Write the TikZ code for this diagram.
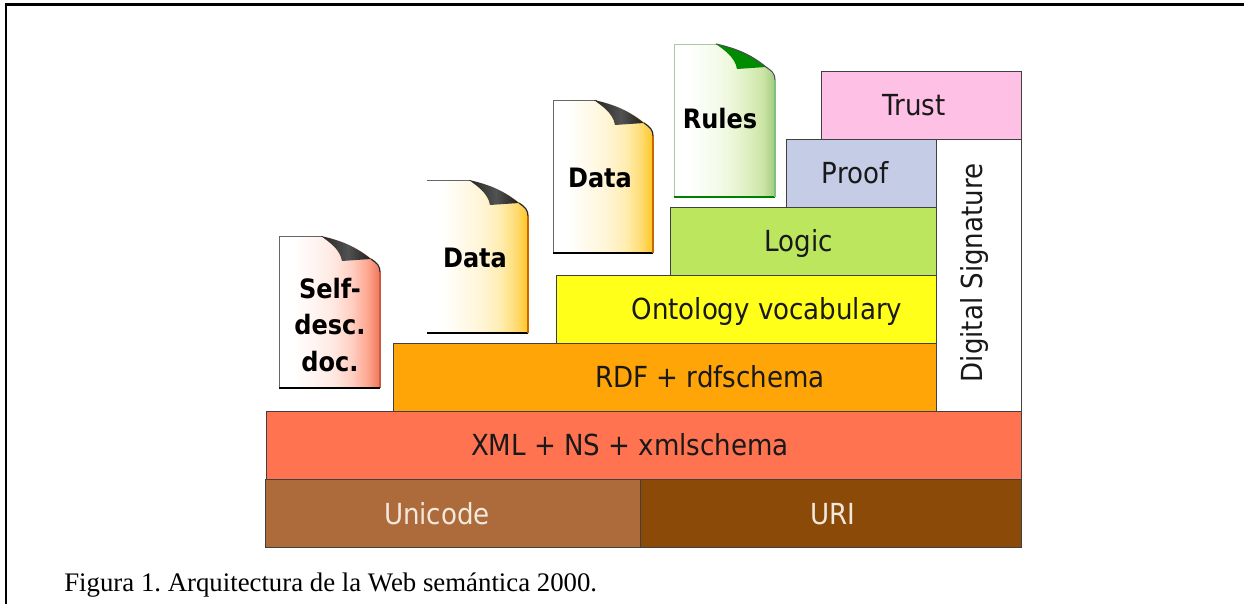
\documentclass[tikz,border=0pt]{standalone}
\usepackage{fontspec}
\setmainfont{Liberation Serif}
\newfontfamily\layerfont{DejaVu Sans Condensed}
\usetikzlibrary{shadings}
\definecolor{unicodebrown}{HTML}{AD6B3B}
\definecolor{uribrown}{HTML}{8B4A08}
\definecolor{xmlred}{HTML}{FF7350}
\definecolor{rdforange}{HTML}{FFA508}
\definecolor{ontoyellow}{HTML}{FFFF19}
\definecolor{logicgreen}{HTML}{BBE65E}
\definecolor{proofblue}{HTML}{C5CDE6}
\definecolor{trustpink}{HTML}{FFC0E6}
\definecolor{palelabel}{HTML}{F2E8DC}
\pgfdeclarehorizontalshading{docred}{100bp}{rgb(0bp)=(1,1,1); rgb(32bp)=(1,1,1); rgb(42bp)=(1,.96,.95); rgb(52bp)=(1,.91,.88); rgb(61bp)=(1,.81,.76); rgb(69bp)=(.99,.65,.56); rgb(75bp)=(.94,.46,.34); rgb(100bp)=(.94,.46,.34)}
\pgfdeclarehorizontalshading{docyellow}{100bp}{rgb(0bp)=(1,1,1); rgb(32bp)=(1,1,1); rgb(42bp)=(1,.98,.92); rgb(52bp)=(1,.96,.84); rgb(61bp)=(1,.93,.70); rgb(69bp)=(1,.86,.45); rgb(75bp)=(1,.78,.13); rgb(100bp)=(1,.78,.13)}
\pgfdeclarehorizontalshading{docgreen}{100bp}{rgb(0bp)=(1,1,1); rgb(32bp)=(1,1,1); rgb(42bp)=(.97,.99,.94); rgb(52bp)=(.94,.97,.87); rgb(61bp)=(.87,.94,.76); rgb(69bp)=(.80,.90,.65); rgb(75bp)=(.62,.80,.50); rgb(100bp)=(.62,.80,.50)}
\pgfdeclarehorizontalshading{foldgrey}{100bp}{rgb(0bp)=(.15,.15,.15); rgb(25bp)=(.15,.15,.15); rgb(52bp)=(.32,.32,.32); rgb(75bp)=(.12,.12,.12); rgb(100bp)=(.12,.12,.12)}
\tikzset{
  layerbox/.style={draw=black!75,line width=0.5pt,inner sep=0pt,anchor=north west},
  layerlabel/.style={anchor=base,inner sep=0pt,font=\layerfont\fontsize{16.5}{18}\selectfont,text=black!90},
  doclabel/.style={font=\layerfont\bfseries\fontsize{15.2}{20}\selectfont,align=center,inner sep=0pt,text=black},
}
\begin{document}
\frenchspacing
\begin{tikzpicture}[x=0.02cm,y=-0.02cm]
  \useasboundingbox (0,0) rectangle (1244,604);
  \fill[white] (0,0) rectangle (1244,604);
  % page frame, top and left only
  \draw[line width=1.2pt] (6,604) -- (6,4.5) -- (1244,4.5);
  % layers
  \node[layerbox,fill=white,minimum width=1.7cm,minimum height=5.44cm] (signature) at (936,139) {};
  \node[layerbox,fill=unicodebrown,minimum width=7.5cm,minimum height=1.36cm] (unicode) at (265,479) {};
  \node[layerbox,fill=uribrown,minimum width=7.62cm,minimum height=1.36cm] (uri) at (640,479) {};
  \node[layerbox,fill=xmlred,minimum width=15.1cm,minimum height=1.36cm] (xml) at (266,411) {};
  \node[layerbox,fill=rdforange,minimum width=10.86cm,minimum height=1.36cm] (rdf) at (393,343) {};
  \node[layerbox,fill=ontoyellow,minimum width=7.6cm,minimum height=1.36cm] (onto) at (556,275) {};
  \node[layerbox,fill=logicgreen,minimum width=5.32cm,minimum height=1.36cm] (logic) at (670,207) {};
  \node[layerbox,fill=proofblue,minimum width=3cm,minimum height=1.36cm] (proof) at (786,139) {};
  \node[layerbox,fill=trustpink,minimum width=4cm,minimum height=1.36cm] (trust) at (821,71) {};
  % layer labels
  \node[layerlabel,text=palelabel] (unicodetext) at (437,524) {Unicode};
  \node[layerlabel,text=palelabel] (uritext) at (833,524) {URI};
  \node[layerlabel] (xmltext) at (630,456) {XML + NS + xmlschema};
  \node[layerlabel] (rdftext) at (710,388) {RDF + rdfschema};
  \node[layerlabel] (ontotext) at (767,320) {Ontology vocabulary};
  \node[layerlabel] (logictext) at (799,252) {Logic};
  \node[layerlabel] (prooftext) at (855,184) {Proof};
  \node[layerlabel] (trusttext) at (914,116) {Trust};
  \node[layerlabel,rotate=90] (signaturetext) at (982,273) {Digital Signature};
  % self-desc. doc
  \shade[shading=docred] (279,236) -- ++(44,0) .. controls +(25,6) and +(-3,-15) .. ++(57,36) -- ++(0,116) -- ++(-101,0) -- cycle;
  \draw[black!60,line width=0.5pt] (279,388) -- (279,236) -- ++(44,0);
  \draw[xmlred!80!black,line width=0.6pt] (380,272) -- (380,388);
  \draw[line width=1pt] (279,388) -- ++(101,0);
  \shade[shading=foldgrey] (321,236) .. controls +(22,5) and +(-15,-12) .. ++(50,23) -- ++(-29,2) .. controls +(-2,-12) and +(8,6) .. cycle;
  \draw[black!85,line width=0.7pt] (371,259) .. controls +(6,4) and +(0,-6) .. (380,272);
  \node[doclabel] (selfdesc) at (330,325) {Self-\\[0.7pt]desc.\\[0.7pt]doc.};
  % first data
  \shade[shading=docyellow] (427,180) -- ++(44,0) .. controls +(25,6) and +(-3,-15) .. ++(57,36) -- ++(0,117) -- ++(-101,0) -- cycle;
  \draw[black!60,line width=0.5pt] (427,180) -- ++(44,0);
  \draw[line width=1pt] (427,333) -- ++(101,0);
  \draw[orange!80!black,line width=0.6pt] (528,216) -- (528,333);
  \shade[shading=foldgrey] (469,180) .. controls +(22,5) and +(-15,-12) .. ++(50,23) -- ++(-29,2) .. controls +(-2,-12) and +(8,6) .. cycle;
  \draw[black!85,line width=0.7pt] (519,203) .. controls +(6,4) and +(0,-6) .. (528,216);
  \node[doclabel] (dataone) at (475,258) {Data};
  % second data
  \shade[shading=docyellow] (553,100) -- ++(44,0) .. controls +(25,6) and +(-3,-15) .. ++(56,36) -- ++(0,117) -- ++(-100,0) -- cycle;
  \draw[black!60,line width=0.5pt] (553,253) -- (553,100) -- ++(44,0);
  \draw[line width=1pt] (553,253) -- ++(100,0);
  \draw[orange!80!black,line width=0.6pt] (653,136) -- (653,253);
  \shade[shading=foldgrey] (594,100) .. controls +(22,5) and +(-15,-12) .. ++(50,23) -- ++(-29,2) .. controls +(-2,-12) and +(8,6) .. cycle;
  \draw[black!85,line width=0.7pt] (644,123) .. controls +(6,4) and +(0,-6) .. (653,136);
  \node[doclabel] (datatwo) at (600,178) {Data};
  % rules
  \shade[shading=docgreen] (674,44) -- ++(44,0) .. controls +(25,6) and +(-3,-15) .. ++(57,36) -- ++(0,117) -- ++(-101,0) -- cycle;
  \draw[green!40!black!35,line width=0.5pt] (674,197) -- (674,44) -- ++(44,0);
  \draw[green!50!black,line width=0.9pt] (674,197) -- ++(101,0);
  \draw[green!50!black!50,line width=0.6pt] (775,80) -- (775,197);
  \fill[green!55!black] (716,44) .. controls +(22,5) and +(-15,-12) .. ++(50,23) -- ++(-29,2) .. controls +(-2,-12) and +(8,6) .. cycle;
  \draw[black!70,line width=0.6pt] (716,44) .. controls +(22,5) and +(-15,-12) .. (766,67) .. controls +(6,4) and +(0,-6) .. (775,80);
  \node[doclabel] (rules) at (720,119) {Rules};
  % caption
  \node[anchor=base west,inner sep=0pt,font=\fontsize{15.25}{17}\selectfont] (caption) at (64,591) {Figura 1. Arquitectura de la Web semántica 2000.};
\end{tikzpicture}
\end{document}
